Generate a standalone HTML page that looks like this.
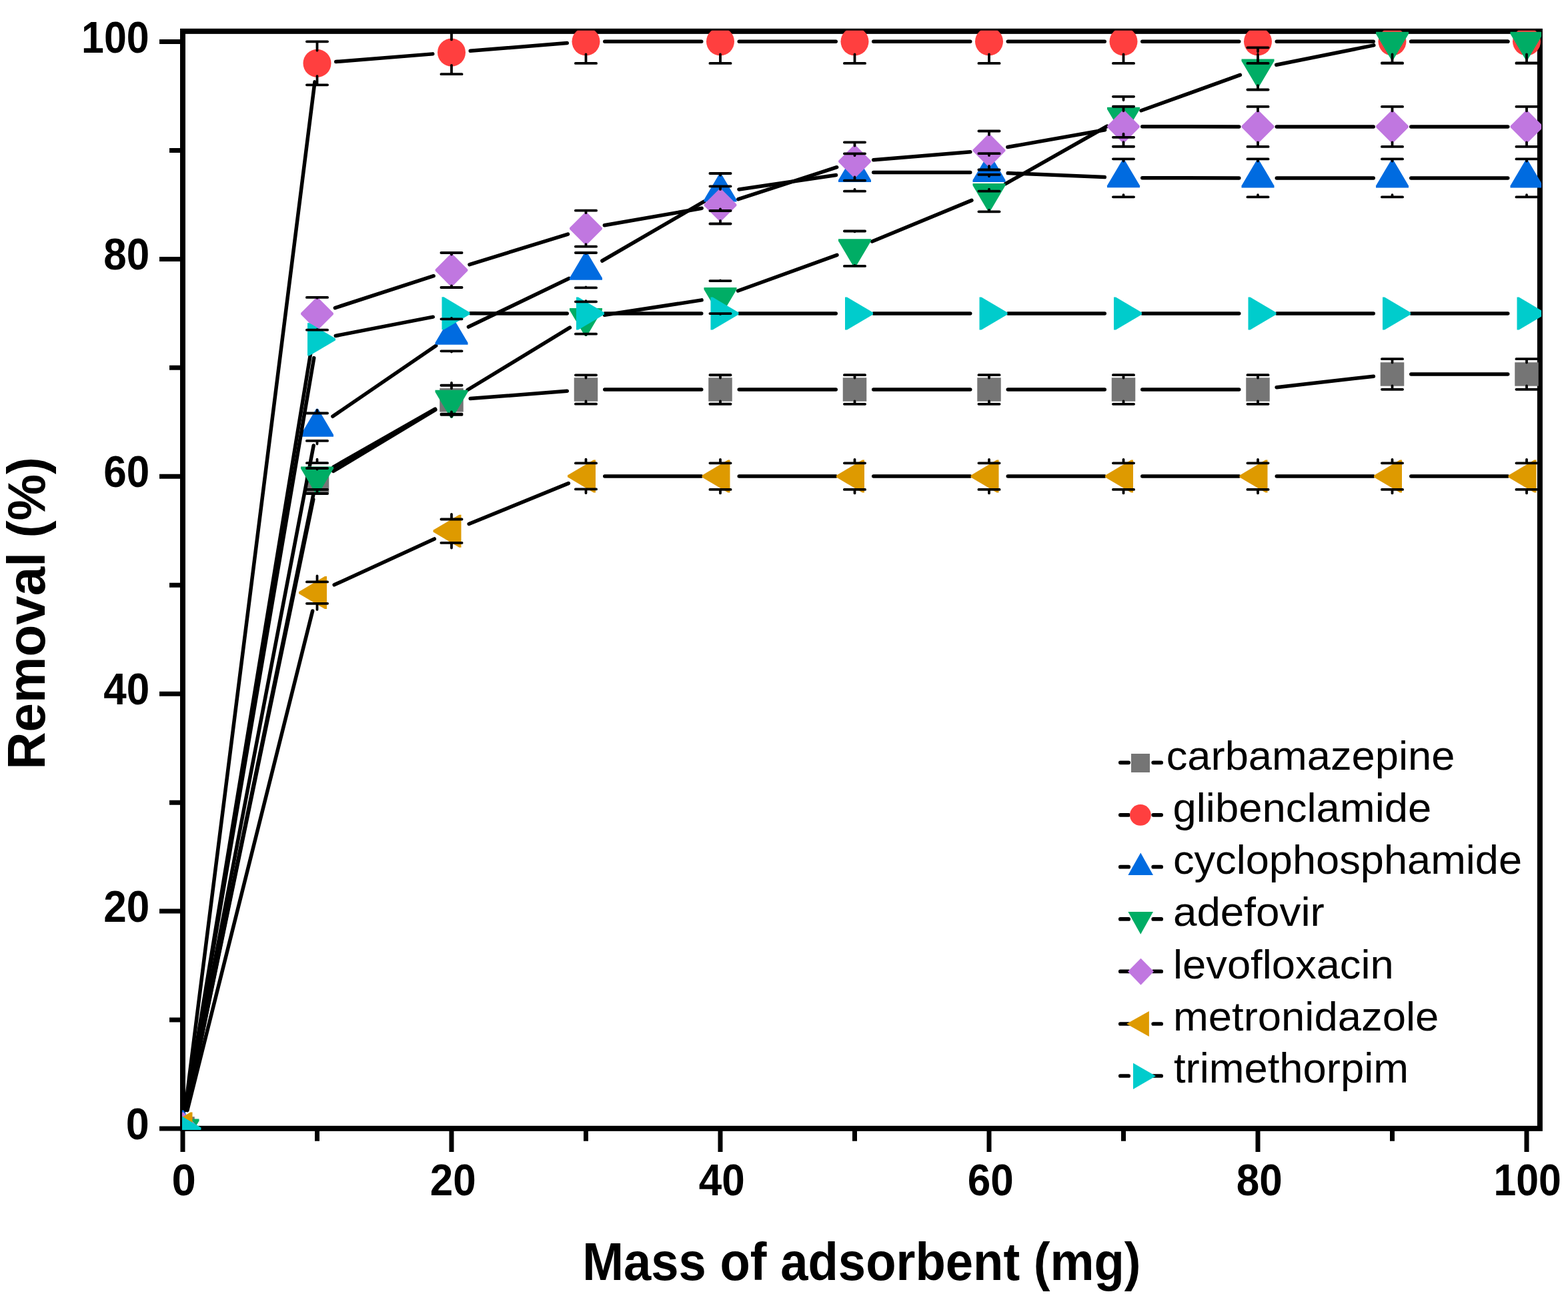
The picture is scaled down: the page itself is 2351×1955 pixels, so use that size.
<!DOCTYPE html>
<html><head><meta charset="utf-8"><title>Removal vs mass of adsorbent</title>
<style>html,body{margin:0;padding:0;background:#fff;overflow:hidden}svg{display:block}</style></head><body>
<svg width="2351" height="1955" viewBox="0 0 2351 1955">
<rect width="2351" height="1955" fill="#fff"/>
<defs><clipPath id="pc"><rect x="273" y="45.8" width="2038.1" height="1648.2"/></clipPath></defs>
<rect x="274" y="46.85" width="2034.9" height="1645" fill="none" stroke="#000" stroke-width="8"/>
<path d="M239 1692.00H274M254 1529.05H274M239 1366.10H274M254 1203.15H274M239 1040.20H274M254 877.25H274M239 714.30H274M254 551.35H274M239 388.40H274M254 225.45H274M239 62.50H274" stroke="#000" stroke-width="7" fill="none"/>
<path d="M274.00 1692V1726.9M475.50 1692V1710.7M677.00 1692V1726.9M878.50 1692V1710.7M1080.00 1692V1726.9M1281.50 1692V1710.7M1483.00 1692V1726.9M1684.50 1692V1710.7M1886.00 1692V1726.9M2087.50 1692V1710.7M2289.00 1692V1726.9" stroke="#000" stroke-width="7" fill="none"/>
<g clip-path="url(#pc)">
<path d="M279.74 1664.34L469.76 748.66M499.71 706.44L652.79 614.36M705.16 597.59L850.34 586.21M906.75 584.00L1051.75 584.00M1108.25 584.00L1253.25 584.00M1309.75 584.00L1454.75 584.00M1511.25 584.00L1656.25 584.00M1712.75 584.00L1857.75 584.00M1914.07 580.80L2059.43 564.20M2115.75 561.00L2260.75 561.00" stroke="#000" stroke-width="5.5" stroke-linecap="round" fill="none"/>
<rect x="256.25" y="1674.25" width="35.50" height="35.50" fill="#757575"/>
<rect x="457.75" y="703.25" width="35.50" height="35.50" fill="#757575"/>
<rect x="659.25" y="582.05" width="35.50" height="35.50" fill="#757575"/>
<rect x="860.75" y="566.25" width="35.50" height="35.50" fill="#757575"/>
<rect x="1062.25" y="566.25" width="35.50" height="35.50" fill="#757575"/>
<rect x="1263.75" y="566.25" width="35.50" height="35.50" fill="#757575"/>
<rect x="1465.25" y="566.25" width="35.50" height="35.50" fill="#757575"/>
<rect x="1666.75" y="566.25" width="35.50" height="35.50" fill="#757575"/>
<rect x="1868.25" y="566.25" width="35.50" height="35.50" fill="#757575"/>
<rect x="2069.75" y="543.25" width="35.50" height="35.50" fill="#757575"/>
<rect x="2271.25" y="543.25" width="35.50" height="35.50" fill="#757575"/>
<path d="M277.54 1663.97L471.96 122.88M503.66 92.58L648.84 80.87M705.16 76.32L850.34 64.58M906.75 62.30L1051.75 62.30M1108.25 62.30L1253.25 62.30M1309.75 62.30L1454.75 62.30M1511.25 62.30L1656.25 62.30M1712.75 62.30L1857.75 62.30M1914.25 62.30L2059.25 62.30M2115.75 62.30L2260.75 62.30" stroke="#000" stroke-width="5.5" stroke-linecap="round" fill="none"/>
<circle cx="274.00" cy="1692.00" r="21.00" fill="#FF3F3F"/>
<circle cx="475.50" cy="94.85" r="21.00" fill="#FF3F3F"/>
<circle cx="677.00" cy="78.60" r="21.00" fill="#FF3F3F"/>
<circle cx="878.50" cy="62.30" r="21.00" fill="#FF3F3F"/>
<circle cx="1080.00" cy="62.30" r="21.00" fill="#FF3F3F"/>
<circle cx="1281.50" cy="62.30" r="21.00" fill="#FF3F3F"/>
<circle cx="1483.00" cy="62.30" r="21.00" fill="#FF3F3F"/>
<circle cx="1684.50" cy="62.30" r="21.00" fill="#FF3F3F"/>
<circle cx="1886.00" cy="62.30" r="21.00" fill="#FF3F3F"/>
<circle cx="2087.50" cy="62.30" r="21.00" fill="#FF3F3F"/>
<circle cx="2289.00" cy="62.30" r="21.00" fill="#FF3F3F"/>
<path d="M279.32 1664.25L470.18 667.95M498.81 624.25L653.69 518.25M702.45 490.04L853.05 417.46M902.92 391.00L1055.58 302.20M1107.95 283.91L1253.55 262.59M1309.75 258.49L1454.75 258.41M1511.23 259.58L1656.27 265.62M1712.75 266.81L1857.75 266.89M1914.25 266.90L2059.25 266.90M2115.75 266.90L2260.75 266.90" stroke="#000" stroke-width="5.5" stroke-linecap="round" fill="none"/>
<path d="M272.60 1664.50L275.40 1664.50L298.50 1703.50L298.50 1706.50L249.50 1706.50L249.50 1703.50Z" fill="#006BE0"/>
<path d="M474.10 612.70L476.90 612.70L500.00 651.70L500.00 654.70L451.00 654.70L451.00 651.70Z" fill="#006BE0"/>
<path d="M675.60 474.80L678.40 474.80L701.50 513.80L701.50 516.80L652.50 516.80L652.50 513.80Z" fill="#006BE0"/>
<path d="M877.10 377.70L879.90 377.70L903.00 416.70L903.00 419.70L854.00 419.70L854.00 416.70Z" fill="#006BE0"/>
<path d="M1078.60 260.50L1081.40 260.50L1104.50 299.50L1104.50 302.50L1055.50 302.50L1055.50 299.50Z" fill="#006BE0"/>
<path d="M1280.10 231.00L1282.90 231.00L1306.00 270.00L1306.00 273.00L1257.00 273.00L1257.00 270.00Z" fill="#006BE0"/>
<path d="M1481.60 230.90L1484.40 230.90L1507.50 269.90L1507.50 272.90L1458.50 272.90L1458.50 269.90Z" fill="#006BE0"/>
<path d="M1683.10 239.30L1685.90 239.30L1709.00 278.30L1709.00 281.30L1660.00 281.30L1660.00 278.30Z" fill="#006BE0"/>
<path d="M1884.60 239.40L1887.40 239.40L1910.50 278.40L1910.50 281.40L1861.50 281.40L1861.50 278.40Z" fill="#006BE0"/>
<path d="M2086.10 239.40L2088.90 239.40L2112.00 278.40L2112.00 281.40L2063.00 281.40L2063.00 278.40Z" fill="#006BE0"/>
<path d="M2287.60 239.40L2290.40 239.40L2313.50 278.40L2313.50 281.40L2264.50 281.40L2264.50 278.40Z" fill="#006BE0"/>
<path d="M279.70 1664.33L469.80 741.67M500.05 700.02L652.45 613.18M701.13 584.51L854.37 491.19M906.42 472.22L1052.08 449.88M1106.56 435.99L1254.94 382.31M1307.62 361.93L1456.88 300.37M1507.57 275.66L1659.93 189.24M1711.09 165.75L1859.41 112.45M1913.69 97.32L2059.81 67.88M2115.75 62.30L2260.75 62.30" stroke="#000" stroke-width="5.5" stroke-linecap="round" fill="none"/>
<path d="M272.60 1719.50L275.40 1719.50L298.50 1680.50L298.50 1677.50L249.50 1677.50L249.50 1680.50Z" fill="#00AD65"/>
<path d="M474.10 741.50L476.90 741.50L500.00 702.50L500.00 699.50L451.00 699.50L451.00 702.50Z" fill="#00AD65"/>
<path d="M675.60 626.70L678.40 626.70L701.50 587.70L701.50 584.70L652.50 584.70L652.50 587.70Z" fill="#00AD65"/>
<path d="M877.10 504.00L879.90 504.00L903.00 465.00L903.00 462.00L854.00 462.00L854.00 465.00Z" fill="#00AD65"/>
<path d="M1078.60 473.10L1081.40 473.10L1104.50 434.10L1104.50 431.10L1055.50 431.10L1055.50 434.10Z" fill="#00AD65"/>
<path d="M1280.10 400.20L1282.90 400.20L1306.00 361.20L1306.00 358.20L1257.00 358.20L1257.00 361.20Z" fill="#00AD65"/>
<path d="M1481.60 317.10L1484.40 317.10L1507.50 278.10L1507.50 275.10L1458.50 275.10L1458.50 278.10Z" fill="#00AD65"/>
<path d="M1683.10 202.80L1685.90 202.80L1709.00 163.80L1709.00 160.80L1660.00 160.80L1660.00 163.80Z" fill="#00AD65"/>
<path d="M1884.60 130.40L1887.40 130.40L1910.50 91.40L1910.50 88.40L1861.50 88.40L1861.50 91.40Z" fill="#00AD65"/>
<path d="M2086.10 89.80L2088.90 89.80L2112.00 50.80L2112.00 47.80L2063.00 47.80L2063.00 50.80Z" fill="#00AD65"/>
<path d="M2287.60 89.80L2290.40 89.80L2313.50 50.80L2313.50 47.80L2264.50 47.80L2264.50 50.80Z" fill="#00AD65"/>
<path d="M278.60 1664.13L470.90 498.17M502.37 461.59L650.13 413.71M703.99 396.66L851.51 351.04M906.33 337.83L1052.17 312.27M1106.87 298.68L1254.63 250.72M1309.66 239.69L1454.84 227.81M1510.82 220.56L1656.68 194.69M1712.75 189.77L1857.75 189.88M1914.25 189.90L2059.25 189.90M2115.75 189.90L2260.75 189.90" stroke="#000" stroke-width="5.5" stroke-linecap="round" fill="none"/>
<path d="M272.90 1667.60L275.10 1667.60L298.40 1690.90L298.40 1693.10L275.10 1716.40L272.90 1716.40L249.60 1693.10L249.60 1690.90Z" fill="#C077E0"/>
<path d="M474.40 445.90L476.60 445.90L499.90 469.20L499.90 471.40L476.60 494.70L474.40 494.70L451.10 471.40L451.10 469.20Z" fill="#C077E0"/>
<path d="M675.90 380.60L678.10 380.60L701.40 403.90L701.40 406.10L678.10 429.40L675.90 429.40L652.60 406.10L652.60 403.90Z" fill="#C077E0"/>
<path d="M877.40 318.30L879.60 318.30L902.90 341.60L902.90 343.80L879.60 367.10L877.40 367.10L854.10 343.80L854.10 341.60Z" fill="#C077E0"/>
<path d="M1078.90 283.00L1081.10 283.00L1104.40 306.30L1104.40 308.50L1081.10 331.80L1078.90 331.80L1055.60 308.50L1055.60 306.30Z" fill="#C077E0"/>
<path d="M1280.40 217.60L1282.60 217.60L1305.90 240.90L1305.90 243.10L1282.60 266.40L1280.40 266.40L1257.10 243.10L1257.10 240.90Z" fill="#C077E0"/>
<path d="M1481.90 201.10L1484.10 201.10L1507.40 224.40L1507.40 226.60L1484.10 249.90L1481.90 249.90L1458.60 226.60L1458.60 224.40Z" fill="#C077E0"/>
<path d="M1683.40 165.35L1685.60 165.35L1708.90 188.65L1708.90 190.85L1685.60 214.15L1683.40 214.15L1660.10 190.85L1660.10 188.65Z" fill="#C077E0"/>
<path d="M1884.90 165.50L1887.10 165.50L1910.40 188.80L1910.40 191.00L1887.10 214.30L1884.90 214.30L1861.60 191.00L1861.60 188.80Z" fill="#C077E0"/>
<path d="M2086.40 165.50L2088.60 165.50L2111.90 188.80L2111.90 191.00L2088.60 214.30L2086.40 214.30L2063.10 191.00L2063.10 188.80Z" fill="#C077E0"/>
<path d="M2287.90 165.50L2290.10 165.50L2313.40 188.80L2313.40 191.00L2290.10 214.30L2287.90 214.30L2264.60 191.00L2264.60 188.80Z" fill="#C077E0"/>
<path d="M280.87 1664.60L468.63 916.00M501.18 876.82L651.32 807.98M703.15 785.52L852.35 724.58M906.75 713.93L1051.75 714.07M1108.25 714.10L1253.25 714.10M1309.75 714.10L1454.75 714.10M1511.25 714.10L1656.25 714.10M1712.75 714.10L1857.75 714.10M1914.25 714.10L2059.25 714.10M2115.75 714.10L2260.75 714.10" stroke="#000" stroke-width="5.5" stroke-linecap="round" fill="none"/>
<path d="M246.50 1690.60L246.50 1693.40L285.50 1716.50L288.50 1716.50L288.50 1667.50L285.50 1667.50Z" fill="#DE9A00"/>
<path d="M448.00 887.20L448.00 890.00L487.00 913.10L490.00 913.10L490.00 864.10L487.00 864.10Z" fill="#DE9A00"/>
<path d="M649.50 794.80L649.50 797.60L688.50 820.70L691.50 820.70L691.50 771.70L688.50 771.70Z" fill="#DE9A00"/>
<path d="M851.00 712.50L851.00 715.30L890.00 738.40L893.00 738.40L893.00 689.40L890.00 689.40Z" fill="#DE9A00"/>
<path d="M1052.50 712.70L1052.50 715.50L1091.50 738.60L1094.50 738.60L1094.50 689.60L1091.50 689.60Z" fill="#DE9A00"/>
<path d="M1254.00 712.70L1254.00 715.50L1293.00 738.60L1296.00 738.60L1296.00 689.60L1293.00 689.60Z" fill="#DE9A00"/>
<path d="M1455.50 712.70L1455.50 715.50L1494.50 738.60L1497.50 738.60L1497.50 689.60L1494.50 689.60Z" fill="#DE9A00"/>
<path d="M1657.00 712.70L1657.00 715.50L1696.00 738.60L1699.00 738.60L1699.00 689.60L1696.00 689.60Z" fill="#DE9A00"/>
<path d="M1858.50 712.70L1858.50 715.50L1897.50 738.60L1900.50 738.60L1900.50 689.60L1897.50 689.60Z" fill="#DE9A00"/>
<path d="M2060.00 712.70L2060.00 715.50L2099.00 738.60L2102.00 738.60L2102.00 689.60L2099.00 689.60Z" fill="#DE9A00"/>
<path d="M2261.50 712.70L2261.50 715.50L2300.50 738.60L2303.50 738.60L2303.50 689.60L2300.50 689.60Z" fill="#DE9A00"/>
<path d="M278.74 1664.15L470.76 536.65M503.24 503.43L649.26 475.17M705.25 469.83L850.25 469.97M906.75 470.00L1051.75 470.00M1108.25 470.00L1253.25 470.00M1309.75 470.00L1454.75 470.00M1511.25 470.00L1656.25 470.00M1712.75 470.00L1857.75 470.00M1914.25 470.00L2059.25 470.00M2115.75 470.00L2260.75 470.00" stroke="#000" stroke-width="5.5" stroke-linecap="round" fill="none"/>
<path d="M301.50 1690.60L301.50 1693.40L262.50 1716.50L259.50 1716.50L259.50 1667.50L262.50 1667.50Z" fill="#00CCCC"/>
<path d="M503.00 507.40L503.00 510.20L464.00 533.30L461.00 533.30L461.00 484.30L464.00 484.30Z" fill="#00CCCC"/>
<path d="M704.50 468.40L704.50 471.20L665.50 494.30L662.50 494.30L662.50 445.30L665.50 445.30Z" fill="#00CCCC"/>
<path d="M906.00 468.60L906.00 471.40L867.00 494.50L864.00 494.50L864.00 445.50L867.00 445.50Z" fill="#00CCCC"/>
<path d="M1107.50 468.60L1107.50 471.40L1068.50 494.50L1065.50 494.50L1065.50 445.50L1068.50 445.50Z" fill="#00CCCC"/>
<path d="M1309.00 468.60L1309.00 471.40L1270.00 494.50L1267.00 494.50L1267.00 445.50L1270.00 445.50Z" fill="#00CCCC"/>
<path d="M1510.50 468.60L1510.50 471.40L1471.50 494.50L1468.50 494.50L1468.50 445.50L1471.50 445.50Z" fill="#00CCCC"/>
<path d="M1712.00 468.60L1712.00 471.40L1673.00 494.50L1670.00 494.50L1670.00 445.50L1673.00 445.50Z" fill="#00CCCC"/>
<path d="M1913.50 468.60L1913.50 471.40L1874.50 494.50L1871.50 494.50L1871.50 445.50L1874.50 445.50Z" fill="#00CCCC"/>
<path d="M2115.00 468.60L2115.00 471.40L2076.00 494.50L2073.00 494.50L2073.00 445.50L2076.00 445.50Z" fill="#00CCCC"/>
<path d="M2316.50 468.60L2316.50 471.40L2277.50 494.50L2274.50 494.50L2274.50 445.50L2277.50 445.50Z" fill="#00CCCC"/>
<path d="M459.90 702.00H491.10M459.90 740.00H491.10M475.50 702.00V703.50M475.50 740.00V738.50M661.40 577.80H692.60M661.40 621.80H692.60M677.00 577.80V582.30M677.00 621.80V617.30M862.90 562.30H894.10M862.90 605.70H894.10M878.50 562.30V566.50M878.50 605.70V601.50M1064.40 562.25H1095.60M1064.40 605.75H1095.60M1080.00 562.25V566.50M1080.00 605.75V601.50M1265.90 562.20H1297.10M1265.90 605.80H1297.10M1281.50 562.20V566.50M1281.50 605.80V601.50M1467.40 562.20H1498.60M1467.40 605.80H1498.60M1483.00 562.20V566.50M1483.00 605.80V601.50M1668.90 562.20H1700.10M1668.90 605.80H1700.10M1684.50 562.20V566.50M1684.50 605.80V601.50M1870.40 562.20H1901.60M1870.40 605.80H1901.60M1886.00 562.20V566.50M1886.00 605.80V601.50M2071.90 538.20H2103.10M2071.90 583.80H2103.10M2087.50 538.20V543.50M2087.50 583.80V578.50M2273.40 538.20H2304.60M2273.40 583.80H2304.60M2289.00 538.20V543.50M2289.00 583.80V578.50M459.90 62.35H491.10M459.90 127.35H491.10M475.50 62.35V75.65M475.50 127.35V114.05M661.40 46.00H692.60M661.40 111.20H692.60M677.00 46.00V59.40M677.00 111.20V97.80M862.90 29.70H894.10M862.90 94.90H894.10M878.50 29.70V43.10M878.50 94.90V81.50M1064.40 29.70H1095.60M1064.40 94.90H1095.60M1080.00 29.70V43.10M1080.00 94.90V81.50M1265.90 29.70H1297.10M1265.90 94.90H1297.10M1281.50 29.70V43.10M1281.50 94.90V81.50M1467.40 29.70H1498.60M1467.40 94.90H1498.60M1483.00 29.70V43.10M1483.00 94.90V81.50M1668.90 29.70H1700.10M1668.90 94.90H1700.10M1684.50 29.70V43.10M1684.50 94.90V81.50M1870.40 29.70H1901.60M1870.40 94.90H1901.60M1886.00 29.70V43.10M1886.00 94.90V81.50M2071.90 29.70H2103.10M2071.90 94.90H2103.10M2087.50 29.70V43.10M2087.50 94.90V81.50M2273.40 29.70H2304.60M2273.40 94.90H2304.60M2289.00 29.70V43.10M2289.00 94.90V81.50M459.90 619.50H491.10M459.90 660.90H491.10M475.50 619.50V614.90M475.50 660.90V665.50M661.40 478.30H692.60M661.40 526.30H692.60M677.00 478.30V477.00M677.00 526.30V527.60M862.90 379.00H894.10M862.90 431.40H894.10M878.50 379.00V379.90M878.50 431.40V430.50M1064.40 260.00H1095.60M1064.40 316.00H1095.60M1080.00 260.00V262.70M1080.00 316.00V313.30M1265.90 230.30H1297.10M1265.90 286.70H1297.10M1281.50 230.30V233.20M1281.50 286.70V283.80M1467.40 230.20H1498.60M1467.40 286.60H1498.60M1483.00 230.20V233.10M1483.00 286.60V283.70M1668.90 238.30H1700.10M1668.90 295.30H1700.10M1684.50 238.30V241.50M1684.50 295.30V292.10M1870.40 238.40H1901.60M1870.40 295.40H1901.60M1886.00 238.40V241.60M1886.00 295.40V292.20M2071.90 238.40H2103.10M2071.90 295.40H2103.10M2087.50 238.40V241.60M2087.50 295.40V292.20M2273.40 238.40H2304.60M2273.40 295.40H2304.60M2289.00 238.40V241.60M2289.00 295.40V292.20M459.90 694.20H491.10M459.90 733.80H491.10M475.50 694.20V688.70M475.50 733.80V739.30M661.40 577.70H692.60M661.40 620.70H692.60M677.00 577.70V573.90M677.00 620.70V624.50M862.90 452.30H894.10M862.90 500.70H894.10M878.50 452.30V451.20M878.50 500.70V501.80M1064.40 421.10H1095.60M1064.40 470.10H1095.60M1080.00 421.10V420.30M1080.00 470.10V470.90M1265.90 346.50H1297.10M1265.90 398.90H1297.10M1281.50 346.50V347.40M1281.50 398.90V398.00M1467.40 261.90H1498.60M1467.40 317.30H1498.60M1483.00 261.90V264.30M1483.00 317.30V314.90M1668.90 144.80H1700.10M1668.90 205.80H1700.10M1684.50 144.80V150.00M1684.50 205.80V200.60M1870.40 71.30H1901.60M1870.40 134.50H1901.60M1886.00 71.30V77.60M1886.00 134.50V128.20M2071.90 30.30H2103.10M2071.90 94.30H2103.10M2087.50 30.30V37.00M2087.50 94.30V87.60M2273.40 30.30H2304.60M2273.40 94.30H2304.60M2289.00 30.30V37.00M2289.00 94.30V87.60M459.90 445.90H491.10M459.90 494.70H491.10M475.50 445.90V446.80M475.50 494.70V493.80M661.40 379.00H692.60M661.40 431.00H692.60M677.00 379.00V381.50M677.00 431.00V428.50M862.90 315.70H894.10M862.90 369.70H894.10M878.50 315.70V319.20M878.50 369.70V366.20M1064.40 279.30H1095.60M1064.40 335.50H1095.60M1080.00 279.30V283.90M1080.00 335.50V330.90M1265.90 213.35H1297.10M1265.90 270.65H1297.10M1281.50 213.35V218.50M1281.50 270.65V265.50M1467.40 196.50H1498.60M1467.40 254.50H1498.60M1483.00 196.50V202.00M1483.00 254.50V249.00M1668.90 159.75H1700.10M1668.90 219.75H1700.10M1684.50 159.75V166.25M1684.50 219.75V213.25M1870.40 159.90H1901.60M1870.40 219.90H1901.60M1886.00 159.90V166.40M1886.00 219.90V213.40M2071.90 159.90H2103.10M2071.90 219.90H2103.10M2087.50 159.90V166.40M2087.50 219.90V213.40M2273.40 159.90H2304.60M2273.40 219.90H2304.60M2289.00 159.90V166.40M2289.00 219.90V213.40M459.90 872.40H491.10M459.90 904.80H491.10M475.50 872.40V863.30M475.50 904.80V913.90M661.40 778.50H692.60M661.40 813.90H692.60M677.00 778.50V770.90M677.00 813.90V821.50M862.90 694.40H894.10M862.90 733.40H894.10M878.50 694.40V688.60M878.50 733.40V739.20M1064.40 694.30H1095.60M1064.40 733.90H1095.60M1080.00 694.30V688.80M1080.00 733.90V739.40M1265.90 694.30H1297.10M1265.90 733.90H1297.10M1281.50 694.30V688.80M1281.50 733.90V739.40M1467.40 694.30H1498.60M1467.40 733.90H1498.60M1483.00 694.30V688.80M1483.00 733.90V739.40M1668.90 694.30H1700.10M1668.90 733.90H1700.10M1684.50 694.30V688.80M1684.50 733.90V739.40M1870.40 694.30H1901.60M1870.40 733.90H1901.60M1886.00 694.30V688.80M1886.00 733.90V739.40M2071.90 694.30H2103.10M2071.90 733.90H2103.10M2087.50 694.30V688.80M2087.50 733.90V739.40M2273.40 694.30H2304.60M2273.40 733.90H2304.60M2289.00 694.30V688.80M2289.00 733.90V739.40" stroke="#000" stroke-width="3.8" stroke-linecap="round" fill="none"/>
</g>
<text transform="translate(188.65 1708.00) scale(0.9393 1)" font-family="Liberation Sans, Arial, sans-serif" font-weight="bold" font-size="67">0</text>
<text transform="translate(155.16 1382.10) scale(0.9263 1)" font-family="Liberation Sans, Arial, sans-serif" font-weight="bold" font-size="67">20</text>
<text transform="translate(155.16 1056.20) scale(0.9263 1)" font-family="Liberation Sans, Arial, sans-serif" font-weight="bold" font-size="67">40</text>
<text transform="translate(155.16 730.30) scale(0.9263 1)" font-family="Liberation Sans, Arial, sans-serif" font-weight="bold" font-size="67">60</text>
<text transform="translate(155.16 404.40) scale(0.9263 1)" font-family="Liberation Sans, Arial, sans-serif" font-weight="bold" font-size="67">80</text>
<text transform="translate(122.09 78.50) scale(0.9094 1)" font-family="Liberation Sans, Arial, sans-serif" font-weight="bold" font-size="67">100</text>
<text transform="translate(257.44 1792.00) scale(0.9743 1)" font-family="Liberation Sans, Arial, sans-serif" font-weight="bold" font-size="67">0</text>
<text transform="translate(644.86 1792.00) scale(0.9263 1)" font-family="Liberation Sans, Arial, sans-serif" font-weight="bold" font-size="67">20</text>
<text transform="translate(1047.86 1792.00) scale(0.9263 1)" font-family="Liberation Sans, Arial, sans-serif" font-weight="bold" font-size="67">40</text>
<text transform="translate(1450.86 1792.00) scale(0.9263 1)" font-family="Liberation Sans, Arial, sans-serif" font-weight="bold" font-size="67">60</text>
<text transform="translate(1853.86 1792.00) scale(0.9263 1)" font-family="Liberation Sans, Arial, sans-serif" font-weight="bold" font-size="67">80</text>
<text transform="translate(2239.50 1792.00) scale(0.9075 1)" font-family="Liberation Sans, Arial, sans-serif" font-weight="bold" font-size="67">100</text>
<text transform="translate(873.14 1918.90) scale(0.9282 1)" font-family="Liberation Sans, Arial, sans-serif" font-weight="bold" font-size="80">Mass of adsorbent (mg)</text>
<text transform="translate(67 1153.81) rotate(-90) scale(0.9891 1)" font-family="Liberation Sans, Arial, sans-serif" font-weight="bold" font-size="79">Removal (%)</text>
<text transform="translate(1748.73 1153.90) scale(1.0210 1)" font-family="Liberation Sans, Arial, sans-serif" font-weight="normal" font-size="62">carbamazepine</text>
<text transform="translate(1758.43 1231.80) scale(1.0234 1)" font-family="Liberation Sans, Arial, sans-serif" font-weight="normal" font-size="62">glibenclamide</text>
<text transform="translate(1758.94 1309.80) scale(1.0189 1)" font-family="Liberation Sans, Arial, sans-serif" font-weight="normal" font-size="62">cyclophosphamide</text>
<text transform="translate(1758.91 1388.10) scale(1.0290 1)" font-family="Liberation Sans, Arial, sans-serif" font-weight="normal" font-size="62">adefovir</text>
<text transform="translate(1758.94 1466.70) scale(1.0215 1)" font-family="Liberation Sans, Arial, sans-serif" font-weight="normal" font-size="62">levofloxacin</text>
<text transform="translate(1758.94 1544.70) scale(1.0231 1)" font-family="Liberation Sans, Arial, sans-serif" font-weight="normal" font-size="62">metronidazole</text>
<text transform="translate(1759.91 1622.80) scale(1.0225 1)" font-family="Liberation Sans, Arial, sans-serif" font-weight="normal" font-size="62">trimethorpim</text>
<path d="M1679.8 1143.30H1692.2M1729.2 1143.30H1741.2M1679.8 1221.80H1692.2M1729.2 1221.80H1741.2M1679.8 1299.70H1692.2M1729.2 1299.70H1741.2M1679.8 1377.90H1692.2M1729.2 1377.90H1741.2M1679.8 1456.40H1692.2M1729.2 1456.40H1741.2M1679.8 1535.00H1692.2M1729.2 1535.00H1741.2M1679.8 1613.00H1692.2M1729.2 1613.00H1741.2" stroke="#000" stroke-width="5.7" stroke-linecap="round" fill="none"/>
<rect x="1696" y="1130" width="28" height="28" fill="#757575"/>
<circle cx="1709.9" cy="1221.9" r="15.9" fill="#FF3F3F"/>
<path d="M1710.2 1278.6L1729 1311.9L1691.4 1311.9Z" fill="#006BE0"/>
<path d="M1710.2 1400.7L1729 1367.1L1691.4 1367.1Z" fill="#00AD65"/>
<path d="M1710.5 1436.7L1730 1456.6L1710.5 1476.7L1691 1456.6Z" fill="#C077E0"/>
<path d="M1689 1535L1722.9 1516L1722.9 1554Z" fill="#DE9A00"/>
<path d="M1733 1613.3L1699 1593.7L1699 1633Z" fill="#00CCCC"/>
</svg>
</body></html>
